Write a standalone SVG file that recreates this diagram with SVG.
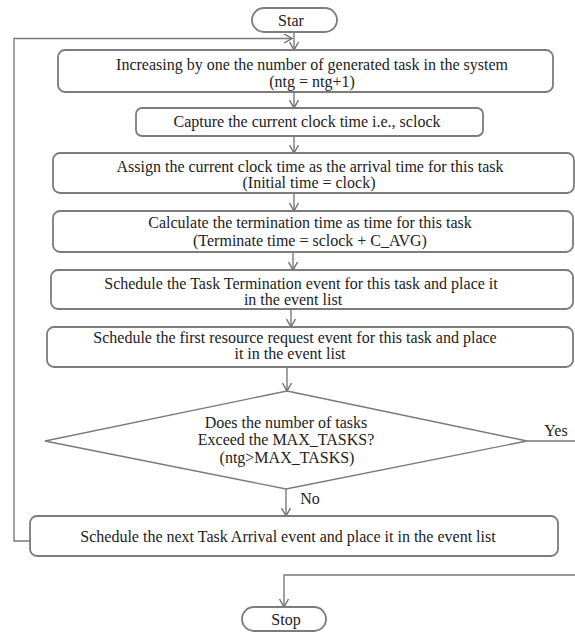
<svg xmlns="http://www.w3.org/2000/svg" width="575" height="634" viewBox="0 0 575 634">
<defs>
<marker id="ah" viewBox="0 0 10 10" refX="9" refY="5" markerWidth="10" markerHeight="10" markerUnits="userSpaceOnUse" orient="auto">
<path d="M1,0.5 L9,5 L1,9.5" fill="none" stroke="#6e6e6e" stroke-width="1.4"/>
</marker>
</defs>
<style>
.box{fill:#fff;stroke:#7c7c7c;stroke-width:1.8}
.ln{fill:none;stroke:#7a7a7a;stroke-width:1.4}
.t{font-family:"Liberation Serif","Times New Roman",serif;font-size:16px;fill:#222;text-anchor:middle}
</style>
<rect width="575" height="634" fill="#fff"/>
<g id="connectors">
<path class="ln" d="M30,541 H14 V38.5 H292" marker-end="url(#ah)"/>
<path class="ln" d="M294,32 V50" marker-end="url(#ah)"/>
<path class="ln" d="M294,92 V108" marker-end="url(#ah)"/>
<path class="ln" d="M294,136 V153" marker-end="url(#ah)"/>
<path class="ln" d="M294,193 V211" marker-end="url(#ah)"/>
<path class="ln" d="M293,252 V270" marker-end="url(#ah)"/>
<path class="ln" d="M291,309 V327" marker-end="url(#ah)"/>
<path class="ln" d="M287,367 V391" marker-end="url(#ah)"/>
<path class="ln" d="M286,489 V516" marker-end="url(#ah)"/>
<path class="ln" d="M527,441 H575"/>
<path class="ln" d="M575,575 H284 V607" marker-end="url(#ah)"/>
<text class="t" x="556" y="436">Yes</text>
<text class="t" x="310" y="504">No</text>
</g>
<g id="start">
<rect class="box" x="252" y="8" width="85" height="24" rx="12"/>
<text class="t" x="291" y="26">Star</text>
</g>
<g id="n1">
<rect class="box" x="58" y="50" width="495" height="42" rx="7"/>
<text class="t" x="312" y="70">Increasing by one the number of generated task in the system</text>
<text class="t" x="312" y="87">(ntg = ntg+1)</text>
</g>
<g id="n2">
<rect class="box" x="136" y="108" width="347" height="28" rx="6"/>
<text class="t" x="307" y="127">Capture the current clock time i.e., sclock</text>
</g>
<g id="n3">
<rect class="box" x="53" y="153" width="521" height="40" rx="7"/>
<text class="t" x="310" y="172">Assign the current clock time as the arrival time for this task</text>
<text class="t" x="309" y="188">(Initial time = clock)</text>
</g>
<g id="n4">
<rect class="box" x="53" y="211" width="520" height="41" rx="7"/>
<text class="t" x="310" y="228">Calculate the termination time as time for this task</text>
<text class="t" x="310" y="246">(Terminate time = sclock + C_AVG)</text>
</g>
<g id="n5">
<rect class="box" x="51" y="270" width="522" height="39" rx="7"/>
<text class="t" x="301" y="289">Schedule the Task Termination event for this task and place it</text>
<text class="t" x="293" y="305">in the event list</text>
</g>
<g id="n6">
<rect class="box" x="47" y="327" width="526" height="40" rx="7"/>
<text class="t" x="295" y="343">Schedule the first resource request event for this task and place</text>
<text class="t" x="290" y="359">it in the event list</text>
</g>
<g id="decision">
<polygon points="287,391 527,441 286,489 45,441" fill="#fff" stroke="#7a7a7a" stroke-width="1.4"/>
<text class="t" x="286" y="428">Does the number of tasks</text>
<text class="t" x="286" y="445">Exceed the MAX_TASKS?</text>
<text class="t" x="287" y="463">(ntg&gt;MAX_TASKS)</text>
</g>
<g id="n7">
<rect class="box" x="30" y="516" width="528" height="40" rx="7"/>
<text class="t" x="288" y="542">Schedule the next Task Arrival event and place it in the event list</text>
</g>
<g id="stop">
<rect class="box" x="242" y="607" width="84" height="24" rx="12"/>
<text class="t" x="286" y="625">Stop</text>
</g>
</svg>
